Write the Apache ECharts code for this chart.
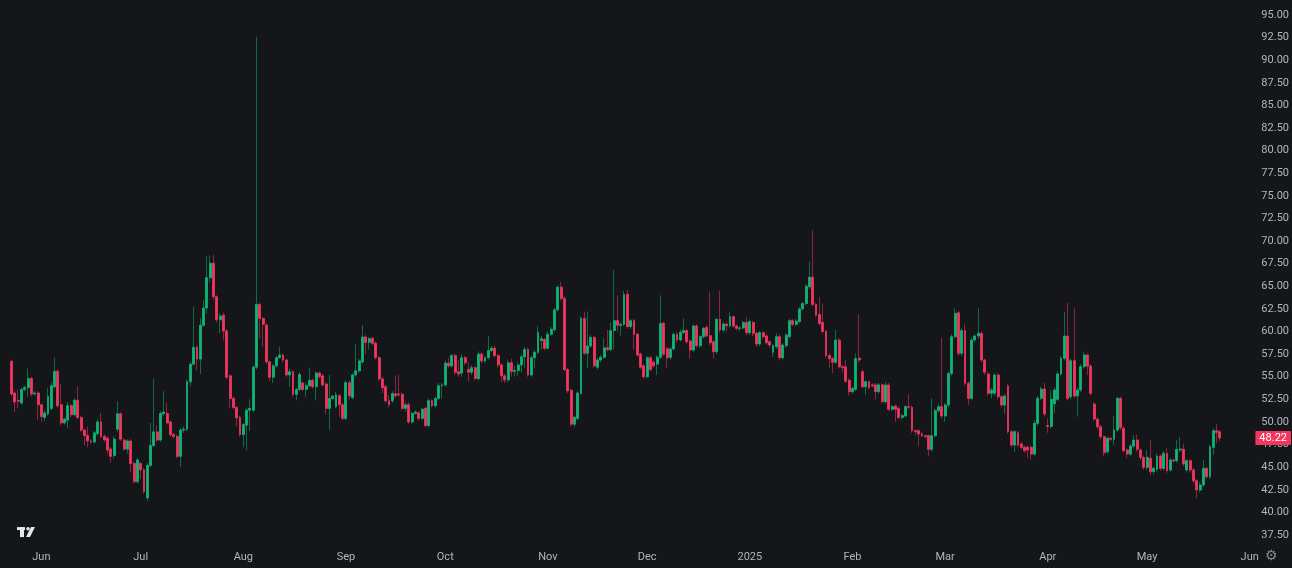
<!DOCTYPE html>
<html>
<head>
<meta charset="utf-8">
<script src="https://cdn.jsdelivr.net/npm/echarts@6/dist/echarts.min.js"></script>
<style>
html,body{margin:0;padding:0;background:#151619;}
#chart{width:1292px;height:568px;}
</style>
</head>
<body>
<div id="chart"></div>
<script>
// ---- data (daily candles 2024-05-23 .. 2025-05-23) ----
const firstCandleDate = '2024-05-23';
const axisStartDate = '2024-05-20';
const axisEndDate = '2025-06-01';
const monthNames = ['2025','Feb','Mar','Apr','May','Jun','Jul','Aug','Sep','Oct','Nov','Dec'];
const yTicksMin = 37.5, yTicksMax = 95, yTickStep = 2.5;

const open = [
56.7,53.2,52.4,52.1,53.6,53.8,54.8,53.1,53.2,51.9,
50.5,50.9,51.5,53.9,55.6,51.9,49.9,50.2,51.8,50.8,
52.4,50.5,49.1,48.5,47.9,47.8,48.7,50.0,48.4,48.2,
47.0,46.3,49.2,50.9,48.0,47.0,47.9,45.4,43.4,45.4,
44.7,41.6,45.2,47.4,48.9,48.0,50.9,50.95,50.0,48.6,
48.4,46.2,49.1,49.2,54.45,56.4,58.25,56.95,60.7,62.6,
65.95,67.55,63.85,61.3,61.8,60.05,55.1,52.6,51.6,50.5,
48.6,49.65,51.3,51.3,56.05,63.0,61.45,60.7,56.65,54.95,
56.2,57.1,57.4,56.85,55.2,55.55,53.05,53.6,54.3,53.6,
54.0,54.6,53.9,55.4,55.1,54.2,51.5,52.6,51.7,52.9,
51.9,50.4,54.35,52.7,55.2,55.65,56.65,59.4,58.8,59.25,
58.7,57.1,54.75,53.9,52.35,52.35,53.1,53.1,53.05,51.5,
51.9,50.0,50.95,51.0,50.4,51.5,49.6,52.35,51.8,52.6,
54.0,54.1,56.5,56.2,57.35,55.55,55.4,57.1,55.8,55.5,
56.0,54.8,57.5,56.75,57.1,57.9,58.15,57.35,56.3,55.1,
54.65,56.55,55.6,55.7,56.3,57.2,58.0,55.2,57.1,57.7,
59.0,59.1,58.15,59.7,60.2,62.4,64.9,63.65,55.8,53.5,
49.75,50.4,53.15,61.45,57.6,58.4,59.35,56.05,56.85,57.15,
58.2,58.0,60.1,61.2,60.7,60.8,64.1,60.55,61.2,59.7,
57.5,56.2,55.0,57.1,56.6,56.4,57.15,60.9,58.1,57.14,
58.07,59.69,59.06,59.9,60.1,58.95,57.95,60.61,58.43,59.43,
60.46,59.54,58.87,57.77,61.35,60.17,60.83,60.64,61.64,60.6,
60.35,60.4,61.0,59.87,61.0,59.8,58.62,59.87,59.5,58.87,
57.7,58.32,59.43,57.1,58.43,59.43,61.2,60.8,61.1,62.5,
63.1,64.95,66.0,63.0,61.9,61.0,60.0,57.35,57.0,56.6,
59.06,56.1,56.1,54.6,53.35,53.6,57.05,55.55,53.9,54.45,
54.1,54.1,53.35,54.1,52.24,54.09,51.4,51.76,51.5,50.51,
50.66,51.69,51.62,49.03,49.03,48.67,48.48,48.48,46.97,48.48,
51.25,51.69,50.66,51.87,55.37,59.43,62.08,57.6,60.09,54.27,
52.61,59.06,59.5,59.8,56.85,55.3,53.17,53.17,55.19,52.79,
51.87,53.97,48.92,47.45,48.8,47.56,47.2,47.2,47.2,46.45,
49.85,52.61,53.64,49.6,49.5,52.0,52.5,55.3,57.04,59.5,
52.79,56.77,52.87,53.53,56.11,57.4,56.18,51.98,50.32,49.47,
48.37,46.71,48.19,48.08,49.11,52.61,49.3,46.9,46.45,47.34,
48.0,46.9,46.08,44.98,45.98,44.5,44.76,46.23,44.87,46.53,
44.69,45.79,45.71,46.9,46.97,44.69,45.71,44.69,43.5,42.47,
43.03,44.87,43.94,47.19,49.03,48.92
];
const close = [
53.1,52.2,52.3,53.6,53.8,54.8,53.1,53.2,51.9,50.6,
51.0,52.8,54.0,55.6,51.8,49.9,50.3,51.8,50.8,52.4,
50.5,49.1,48.5,47.9,47.8,48.8,50.0,48.4,48.0,46.9,
46.2,48.1,50.9,48.1,47.0,47.9,45.4,43.4,45.8,44.7,
42.3,45.2,47.4,48.9,48.0,50.95,51.1,49.9,48.6,48.4,
46.2,49.1,49.2,54.45,56.4,58.25,56.95,60.7,62.6,65.95,
67.55,63.85,61.3,61.7,60.05,54.95,52.6,51.6,50.45,48.6,
49.7,51.3,51.5,56.05,63.0,61.45,60.8,56.65,54.95,56.2,
57.1,57.4,56.85,55.2,55.55,53.05,53.6,55.25,53.6,54.0,
54.6,53.9,55.4,55.0,54.1,51.5,52.6,52.85,53.0,51.9,
50.4,54.35,52.9,55.2,55.65,56.75,59.4,58.8,59.2,58.7,
57.1,54.75,53.8,52.35,51.9,53.15,52.9,53.0,51.5,51.9,
50.0,50.95,51.1,50.4,51.4,49.6,52.35,51.8,52.6,54.0,
54.1,56.5,56.2,57.35,55.5,55.3,57.1,56.55,55.5,56.0,
54.8,57.5,56.75,57.1,57.9,58.15,57.35,56.3,55.1,54.65,
56.55,55.6,55.7,56.3,57.2,58.0,55.2,57.1,57.7,59.9,
59.2,58.15,59.7,60.25,62.4,64.9,63.65,55.8,53.45,49.75,
50.5,53.2,61.45,57.6,58.4,59.35,56.2,56.85,57.15,58.2,
58.0,60.1,61.2,60.7,60.8,64.1,60.55,61.2,59.7,57.4,
56.05,55.0,57.1,55.8,56.2,57.15,60.9,57.5,57.1,58.07,
59.69,59.06,59.91,60.1,58.87,57.95,60.61,58.43,59.43,60.35,
59.54,58.76,57.77,61.35,60.17,60.83,60.64,61.64,60.61,60.35,
60.4,61.0,59.87,61.09,59.8,58.62,59.87,59.43,58.76,58.5,
58.43,59.43,57.1,58.5,59.6,61.2,60.8,61.15,62.5,63.1,
65.0,66.0,63.0,61.8,60.9,60.0,57.35,57.0,56.6,59.06,
56.1,56.0,54.5,53.35,53.7,57.0,56.85,53.9,54.45,53.8,
54.0,53.35,54.1,52.25,54.09,51.4,51.69,51.4,50.51,50.69,
51.69,51.62,49.03,48.92,48.67,48.48,48.37,46.97,48.48,51.25,
51.69,50.66,51.87,55.37,59.43,62.01,57.59,60.1,54.27,52.61,
59.06,59.5,59.8,56.85,55.5,53.17,53.53,55.19,52.79,51.87,
52.87,48.92,47.45,48.92,47.45,47.2,46.82,46.9,46.45,49.85,
52.61,53.64,50.88,49.5,52.5,53.53,55.3,57.04,59.5,52.61,
56.77,52.87,53.53,56.11,57.4,56.18,53.17,50.32,49.47,48.37,
46.6,48.19,48.08,49.11,52.61,49.37,46.82,46.45,47.34,48.0,
46.97,46.08,44.98,46.08,44.5,44.87,46.23,44.87,46.53,44.61,
45.79,45.7,46.97,47.0,45.35,45.71,44.69,43.5,42.47,43.03,
44.87,43.94,47.26,49.03,48.85,48.22
];
const low = [
52.9,51.1,51.5,51.9,53.4,52.8,52.8,52.9,50.2,50.0,
50.1,50.7,51.3,53.7,51.5,49.6,49.7,49.3,50.5,50.6,
50.3,48.9,47.4,47.2,47.6,47.6,48.5,48.2,47.8,46.5,
45.5,46.0,48.9,47.9,46.8,46.5,44.4,43.2,43.2,43.7,
42.1,41.3,45.0,47.2,47.8,47.8,50.7,49.7,48.4,48.2,
46.0,45.05,48.8,49.0,54.0,56.2,55.7,55.3,60.5,62.0,
65.5,63.5,61.0,59.8,59.0,54.7,51.5,51.4,49.5,48.4,
47.2,46.9,49.0,51.1,55.8,59.25,58.3,56.4,54.5,54.3,
56.0,57.0,56.6,55.0,53.9,52.8,52.4,53.4,53.4,52.8,
53.8,53.7,52.4,54.8,53.9,50.8,49.1,52.4,51.5,50.55,
50.2,50.2,52.5,52.5,55.0,55.4,56.4,57.5,58.0,58.5,
56.9,54.5,53.2,52.1,51.6,52.1,52.7,52.8,51.3,51.1,
49.8,49.8,50.8,50.2,50.2,49.4,49.4,51.6,51.6,52.4,
52.6,53.9,56.0,56.0,55.2,55.0,55.0,56.3,54.45,55.2,
54.6,54.6,56.5,56.5,56.9,57.7,57.1,56.0,54.4,54.3,
54.4,55.0,55.0,55.1,55.5,56.0,55.0,55.0,56.0,57.5,
58.0,57.9,58.0,59.5,60.0,62.2,63.4,55.6,53.2,49.5,
49.4,50.2,53.0,57.4,55.96,58.2,56.0,55.8,56.6,57.0,
57.8,57.8,58.0,60.0,59.5,60.6,60.3,60.3,58.0,57.2,
55.8,54.8,54.8,55.6,56.0,55.2,57.0,57.3,56.0,56.9,
57.9,58.8,58.9,59.7,58.6,57.0,57.7,58.2,58.2,59.2,
59.3,58.5,57.0,57.5,59.9,59.9,60.0,60.4,60.4,60.1,
60.0,60.2,59.6,59.6,59.5,58.3,58.4,59.2,58.5,58.2,
57.2,58.1,56.8,56.9,58.2,59.2,60.6,60.6,60.9,62.3,
62.9,64.7,62.8,61.6,60.7,59.8,57.1,56.0,55.4,56.4,
55.9,55.5,54.3,52.9,53.1,53.4,56.5,53.7,53.0,53.6,
53.8,52.5,53.1,52.0,52.0,51.2,51.2,50.0,50.3,50.3,
50.5,51.4,48.8,48.5,47.3,48.3,48.2,46.2,46.7,48.3,
51.0,50.4,50.0,51.6,55.1,59.2,57.3,57.3,54.0,51.87,
52.4,58.8,59.2,56.6,55.2,52.9,52.6,52.9,52.5,51.6,
50.9,48.7,47.2,46.7,47.2,47.0,46.6,46.0,45.8,46.2,
49.6,52.4,50.6,48.8,49.3,51.0,52.3,55.1,56.8,52.4,
52.5,52.6,50.58,53.3,55.9,55.2,52.9,50.1,49.2,48.1,
46.2,46.5,47.9,47.45,48.9,49.1,46.6,46.0,46.2,47.1,
46.7,45.8,44.7,44.7,44.1,44.2,44.5,44.6,44.6,44.3,
44.5,45.5,45.5,46.7,45.1,44.4,44.4,43.2,41.55,42.2,
42.8,43.7,43.7,46.35,47.6,47.9
];
const high = [
56.9,53.4,53.6,53.8,54.0,55.9,55.0,53.4,53.4,52.0,
51.3,53.8,54.4,57.1,55.8,54.2,50.5,52.2,52.0,52.6,
53.9,50.7,49.3,49.5,48.1,49.0,50.3,51.0,48.6,48.4,
47.2,48.4,52.3,51.1,48.2,48.1,48.1,45.6,46.0,45.6,
44.9,45.5,49.9,54.8,49.6,51.2,53.4,52.1,50.2,48.8,
48.6,49.3,49.5,54.7,56.6,62.75,58.5,61.5,63.5,68.35,
68.4,68.5,64.0,62.0,62.1,60.3,55.3,52.8,51.8,50.7,
49.9,51.5,52.5,56.3,92.6,63.2,61.6,60.9,56.8,56.4,
57.3,58.3,57.6,57.0,55.9,55.7,53.8,55.5,54.5,54.3,
56.0,54.8,55.6,55.6,55.3,54.4,55.2,53.0,53.3,53.1,
52.1,54.6,54.6,55.4,58.6,57.0,60.7,59.6,59.4,59.4,
58.9,57.3,55.0,54.1,53.0,53.4,55.1,55.2,53.3,52.2,
52.2,51.2,51.3,51.2,51.6,51.7,52.6,52.5,52.8,54.3,
54.3,56.8,57.1,57.5,57.6,56.9,57.5,57.3,56.6,56.3,
56.2,57.8,57.7,57.3,59.5,58.4,58.5,57.5,56.5,55.3,
56.9,57.0,56.2,56.6,57.5,58.3,58.2,57.3,58.0,60.6,
59.5,59.3,60.0,60.5,62.6,65.1,65.5,63.9,56.0,53.7,
50.7,53.4,61.7,62.2,62.2,59.6,59.5,57.1,57.4,59.3,
60.2,61.0,66.8,64.0,61.0,64.5,64.6,61.4,61.4,59.9,
57.7,56.4,57.3,57.3,56.8,57.4,64.0,61.1,58.3,58.3,
59.9,59.9,60.2,61.46,60.3,59.1,60.8,60.8,59.6,60.5,
60.7,64.4,59.0,61.5,64.5,61.1,61.0,62.2,61.8,60.8,
60.6,61.2,61.6,61.3,61.2,60.0,60.1,60.0,59.7,59.0,
58.6,59.8,59.7,58.7,59.8,61.4,61.4,61.4,62.7,63.3,
65.2,67.7,71.2,63.2,63.8,63.1,60.2,57.6,57.2,60.2,
59.3,56.3,56.85,54.8,53.9,57.6,61.9,55.8,54.6,54.6,
54.3,54.3,54.3,54.3,54.45,54.3,51.9,51.9,51.7,50.9,
51.9,53.09,51.8,49.2,49.2,48.9,48.6,48.6,52.61,51.5,
52.0,59.32,52.1,55.6,59.7,62.57,62.3,60.4,60.8,54.5,
59.3,59.7,62.57,60.0,57.0,55.5,53.8,55.4,55.4,53.0,
53.1,54.2,49.1,49.1,49.0,47.8,47.4,47.4,47.4,50.2,
52.9,53.9,54.3,50.4,53.5,53.8,55.6,57.3,62.2,63.19,
57.0,62.57,53.8,56.4,57.77,57.6,56.4,52.2,50.5,49.7,
48.5,48.4,48.3,50.66,52.8,52.8,49.5,47.1,47.6,48.55,
48.6,47.1,46.3,46.9,48.0,45.1,46.5,46.4,46.8,47.08,
46.0,45.9,48.0,48.3,47.6,45.9,45.9,44.9,43.7,43.3,
45.8,45.0,47.5,49.3,49.77,49.1
];

// ---- colours ----
const UP = '#12b478', DOWN = '#f2365e';
const UP_WICK = '#0d6b47', DOWN_WICK = '#8a2440';
const BG = '#151619', TEXT = '#b2b5be';

// ---- build categories ----
function fmt(d){const m=d.getUTCMonth()+1, dd=d.getUTCDate();return d.getUTCFullYear()+'-'+(m<10?'0':'')+m+'-'+(dd<10?'0':'')+dd;}
const categories = [];
for (let t = Date.parse(axisStartDate+'T00:00:00Z'); t <= Date.parse(axisEndDate+'T00:00:00Z'); t += 86400000) categories.push(fmt(new Date(t)));
const offset = categories.indexOf(firstCandleDate);
const fullData = [], bodyData = [];
for (let i = 0; i < categories.length; i++) {
  const j = i - offset;
  if (j >= 0 && j < open.length) {
    fullData.push([open[j], close[j], low[j], high[j]]);
    bodyData.push([open[j], close[j], Math.min(open[j], close[j]), Math.max(open[j], close[j])]);
  } else {
    fullData.push(['-','-','-','-']);
    bodyData.push(['-','-','-','-']);
  }
}
const lastClose = close[close.length - 1];

const chart = echarts.init(document.getElementById('chart'), null, {renderer: 'canvas'});
const lenOk = open.length === close.length && close.length === low.length && low.length === high.length;
chart.setOption({
  backgroundColor: BG,
  animation: false,
  title: lenOk ? undefined : {text: 'LEN ' + open.length + ' ' + close.length + ' ' + low.length + ' ' + high.length, textStyle:{color:'#fff'}},
  grid: {left: 0, right: 40, top: 15, bottom: 33},
  xAxis: {
    type: 'category',
    data: categories,
    boundaryGap: true,
    axisLine: {show: false},
    axisTick: {show: false},
    splitLine: {show: false},
    axisLabel: {
      color: TEXT, fontSize: 11, fontFamily: 'Roboto, sans-serif', margin: 17,
      interval: (idx, val) => val.slice(8) === '01',
      formatter: (val) => { const m = parseInt(val.slice(5,7),10); return m === 1 ? val.slice(0,4) : monthNames[m-1]; }
    }
  },
  yAxis: {
    type: 'value', position: 'right', min: yTicksMin, max: yTicksMax, interval: yTickStep,
    axisLine: {show: false}, axisTick: {show: false}, splitLine: {show: false},
    axisLabel: {color: TEXT, fontSize: 11, fontFamily: 'Roboto, sans-serif', margin: 10, align: 'left',
      formatter: (v) => v.toFixed(2)}
  },
  series: [
    {
      type: 'candlestick', data: fullData, barWidth: 2.4, silent: true,
      itemStyle: {color: UP_WICK, color0: DOWN_WICK, borderColor: UP_WICK, borderColor0: DOWN_WICK, borderWidth: 1}
    },
    {
      type: 'candlestick', data: bodyData, barWidth: 2.4, silent: true, z: 3,
      itemStyle: {color: UP, color0: DOWN, borderColor: UP, borderColor0: DOWN, borderWidth: 0.6},
      markLine: {
        silent: true, symbol: 'none', animation: false,
        lineStyle: {width: 0, color: 'rgba(0,0,0,0)', type: 'solid'},
        data: [{yAxis: lastClose}],
        label: {show: true, position: 'end', distance: 4, formatter: (p) => Number(p.value).toFixed(2),
          color: '#ffffff', backgroundColor: DOWN, padding: [2, 4, 1, 4], fontSize: 11, fontFamily: 'Roboto, sans-serif', borderRadius: 1}
      }
    }
  ],
  graphic: [
    {type: 'group', left: 17, top: 527, children: [
      {type: 'rect', shape: {x: 0, y: 0, width: 8, height: 3}, style: {fill: '#e6e7ea'}},
      {type: 'rect', shape: {x: 3, y: 0, width: 4, height: 10}, style: {fill: '#e6e7ea'}},
      {type: 'circle', shape: {cx: 11, cy: 1.7, r: 1.8}, style: {fill: '#e6e7ea'}},
      {type: 'polygon', shape: {points: [[14, 0], [18, 0], [13, 10], [9, 10]]}, style: {fill: '#e6e7ea'}}
    ]},
    {type: 'text', left: 1265, top: 549, style: {text: '\u2699', fill: '#868993', fontSize: 14, fontFamily: 'DejaVu Sans'}}
  ]
});
</script>
</body>
</html>
